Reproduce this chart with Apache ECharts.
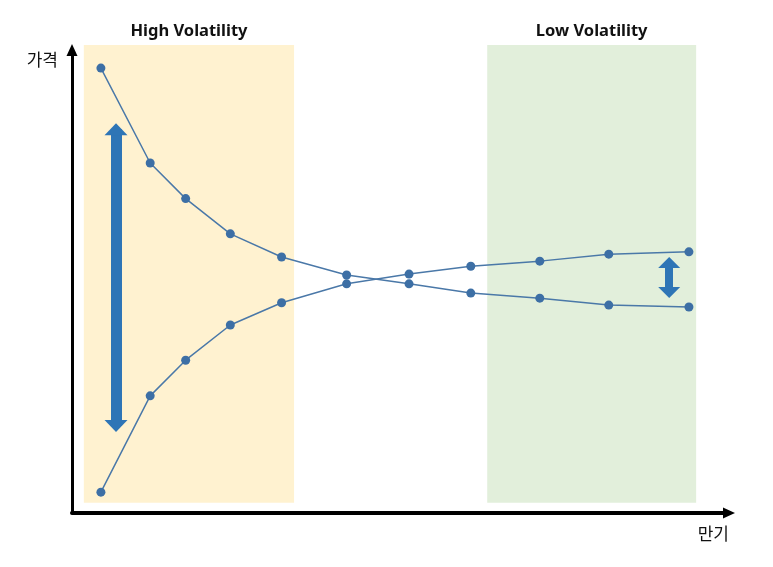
<!DOCTYPE html>
<html>
<head>
<meta charset="utf-8">
<script src="https://cdn.jsdelivr.net/npm/echarts@6/dist/echarts.min.js"></script>
<style>
    html, body { margin: 0; padding: 0; background: #fff; }
    #chart { width: 773px; height: 567px; }
</style>
</head>
<body>
<div id="chart"></div>
<script>
// maturity positions (0-100 along the x axis)
const maturity = [4.4, 11.9, 17.3, 24.1, 31.9, 41.8, 51.3, 60.7, 71.2, 81.7, 93.9];
// price paths (0-100 along the y axis)
const upperPrice = [96.1, 75.6, 67.9, 60.3, 55.3, 51.4, 49.5, 47.5, 46.4, 44.9, 44.5];
const lowerPrice = [4.5, 25.3, 33.0, 40.6, 45.4, 49.5, 51.6, 53.3, 54.4, 55.9, 56.4];

// shaded zones: [name, xFrom, xTo, yFrom, yTo]
const highZone = ['High Volatility', 1.8, 33.8, 2.2, 101.1];
const lowZone = ['Low Volatility', 63.2, 95.0, 2.2, 101.1];

// spread arrows: [x, yTop, yBottom]
const highSpread = [6.7, 82.9, 18.8];
const lowSpread = [90.9, 54.1, 47.6];

const axisName = { x: '만기', y: '가격' };

const lineColor = '#4a78a8';
const pointColor = '#3d6fa5';
const arrowColor = '#2e75b6';

function pairs(xs, ys) {
    return xs.map((x, i) => [x, ys[i]]);
}

function zoneItem(zone, color) {
    return [
        {
            name: zone[0],
            xAxis: zone[1],
            yAxis: zone[4],
            itemStyle: { color: color }
        },
        { xAxis: zone[2], yAxis: zone[3] }
    ];
}

function spreadItem(s) {
    return [
        { coord: [s[0], s[1]] },
        { coord: [s[0], s[2]] }
    ];
}

const hiddenAxis = {
    show: false,
    type: 'value',
    splitLine: { show: false }
};

const chart = echarts.init(document.getElementById('chart'));
const options = {
    animation: false,
    backgroundColor: '#ffffff',
    grid: [
        { left: 72, right: 44, top: 50, bottom: 54 },
        // same plot, a little taller, so the zones can reach above the axis end
        { left: 72, right: 44, top: 45, bottom: 54 }
    ],
    xAxis: [
        {
            type: 'value',
            gridIndex: 0,
            min: 0,
            max: 100,
            name: axisName.x,
            nameLocation: 'end',
            nameGap: 0,
            nameTextStyle: {
                fontFamily: 'Noto Sans CJK KR',
                fontSize: 17,
                color: '#111',
                align: 'right',
                verticalAlign: 'top',
                padding: [12, 0, 0, 0]
            },
            axisLine: {
                lineStyle: { color: '#000', width: 4 },
                symbol: ['none', 'triangle'],
                symbolSize: [11, 12]
            },
            axisTick: { show: false },
            axisLabel: { show: false },
            splitLine: { show: false },
            z: 5
        },
        Object.assign({ gridIndex: 1, min: 0, max: 100 }, hiddenAxis)
    ],
    yAxis: [
        {
            type: 'value',
            gridIndex: 0,
            min: 0,
            max: 100,
            name: axisName.y,
            nameLocation: 'end',
            nameGap: -10,
            nameTextStyle: {
                fontFamily: 'Noto Sans CJK KR',
                fontSize: 17,
                color: '#111',
                align: 'right',
                verticalAlign: 'middle',
                padding: [0, 14, 0, 0]
            },
            axisLine: {
                lineStyle: { color: '#000', width: 3 },
                symbol: ['none', 'triangle'],
                symbolSize: [11, 12]
            },
            axisTick: { show: false },
            axisLabel: { show: false },
            splitLine: { show: false },
            z: 5
        },
        Object.assign({ gridIndex: 1, min: 0, max: 101.1 }, hiddenAxis)
    ],
    series: [
        {
            name: 'zones',
            type: 'line',
            xAxisIndex: 1,
            yAxisIndex: 1,
            data: [],
            z: 1,
            markArea: {
                silent: true,
                label: {
                    show: true,
                    position: 'top',
                    distance: 5,
                    fontFamily: 'Noto Sans',
                    fontWeight: 'bold',
                    fontSize: 16.5,
                    color: '#111'
                },
                data: [
                    zoneItem(highZone, '#fff2d0'),
                    zoneItem(lowZone, '#e2efdb')
                ]
            }
        },
        {
            name: 'upper',
            type: 'line',
            data: pairs(maturity, upperPrice),
            symbol: 'circle',
            symbolSize: 9,
            lineStyle: { color: lineColor, width: 1.5 },
            itemStyle: { color: pointColor },
            z: 3,
            markLine: {
                silent: true,
                symbol: ['triangle', 'triangle'],
                symbolSize: [23, 12],
                label: { show: false },
                lineStyle: { color: arrowColor, width: 11, type: 'solid' },
                data: [spreadItem(highSpread)]
            }
        },
        {
            name: 'lower',
            type: 'line',
            data: pairs(maturity, lowerPrice),
            symbol: 'circle',
            symbolSize: 9,
            lineStyle: { color: lineColor, width: 1.5 },
            itemStyle: { color: pointColor },
            z: 3,
            markLine: {
                silent: true,
                symbol: ['triangle', 'triangle'],
                symbolSize: [22, 11],
                label: { show: false },
                lineStyle: { color: arrowColor, width: 8, type: 'solid' },
                data: [spreadItem(lowSpread)]
            }
        }
    ]
};

chart.setOption(options);
</script>
</body>
</html>
